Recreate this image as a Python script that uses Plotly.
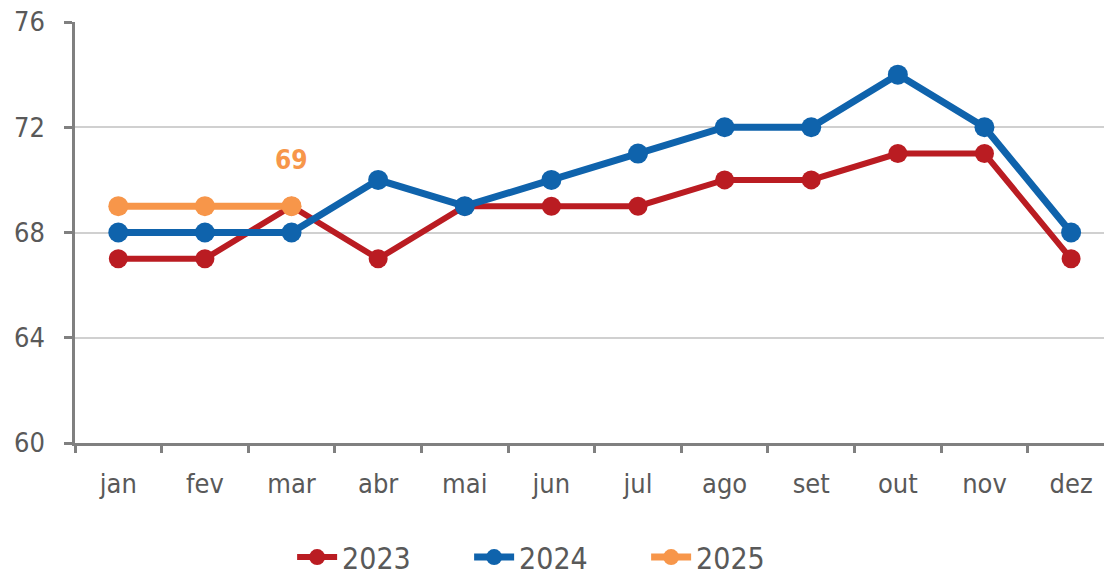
import plotly.graph_objects as go

months = ["jan", "fev", "mar", "abr", "mai", "jun", "jul", "ago", "set", "out", "nov", "dez"]
v2023 = [67, 67, 69, 67, 69, 69, 69, 70, 70, 71, 71, 67]
v2024 = [68, 68, 68, 70, 69, 70, 71, 72, 72, 74, 72, 68]
v2025 = [69, 69, 69]
y_ticks = [60, 64, 68, 72, 76]

FONT = "Liberation Sans Narrow, DejaVu Sans Condensed, Arial Narrow, sans-serif"
RED = "#BA1C22"
BLUE = "#0F63AC"
ORANGE = "#F7964A"

fig = go.Figure()
fig.add_trace(go.Scatter(x=months, y=v2023, name="2023", mode="lines+markers",
                         line=dict(color=RED, width=6), marker=dict(size=19, color=RED)))
fig.add_trace(go.Scatter(x=months, y=v2024, name="2024", mode="lines+markers",
                         line=dict(color=BLUE, width=7), marker=dict(size=20, color=BLUE)))
fig.add_trace(go.Scatter(x=months[:len(v2025)], y=v2025, name="2025", mode="lines+markers",
                         line=dict(color=ORANGE, width=7), marker=dict(size=20, color=ORANGE)))

fig.add_annotation(x=months[len(v2025) - 1], y=v2025[-1], text="<b>%d</b>" % v2025[-1],
                   showarrow=False, yshift=46, font=dict(family=FONT, size=26, color=ORANGE))

fig.update_layout(
    width=1104, height=577,
    margin=dict(l=75, r=0, t=22, b=134, autoexpand=False),
    paper_bgcolor="white", plot_bgcolor="white",
    font=dict(family=FONT, size=27, color="#595959"),
    showlegend=True,
    legend=dict(orientation="h", x=0.211, xanchor="left", y=-0.271, yanchor="middle",
                font=dict(family=FONT, size=30, color="#595959"),
                entrywidth=122, entrywidthmode="pixels", itemwidth=40,
                traceorder="normal"),
    xaxis=dict(type="category", range=[-0.5, 11.38], showgrid=False, automargin=False,
               showline=True, linecolor="#808080", linewidth=2.5,
               ticks="outside", tickson="boundaries", ticklen=7, tickwidth=2.5,
               tickcolor="#808080", ticklabelstandoff=15,
               tickfont=dict(family=FONT, size=27, color="#595959")),
    yaxis=dict(range=[60, 76], tickvals=y_ticks, showgrid=True, gridcolor="#D0D0D0", gridwidth=2,
               showline=True, linecolor="#808080", linewidth=2.5, zeroline=False, automargin=False,
               ticks="outside", ticklen=8, tickwidth=2.5, tickcolor="#808080",
               ticklabelstandoff=14,
               tickfont=dict(family=FONT, size=27, color="#595959")),
)

fig.write_html(
    "out.html",
    config={"displayModeBar": False},
    post_script="document.body.style.margin='0';document.body.style.overflow='hidden';",
)
